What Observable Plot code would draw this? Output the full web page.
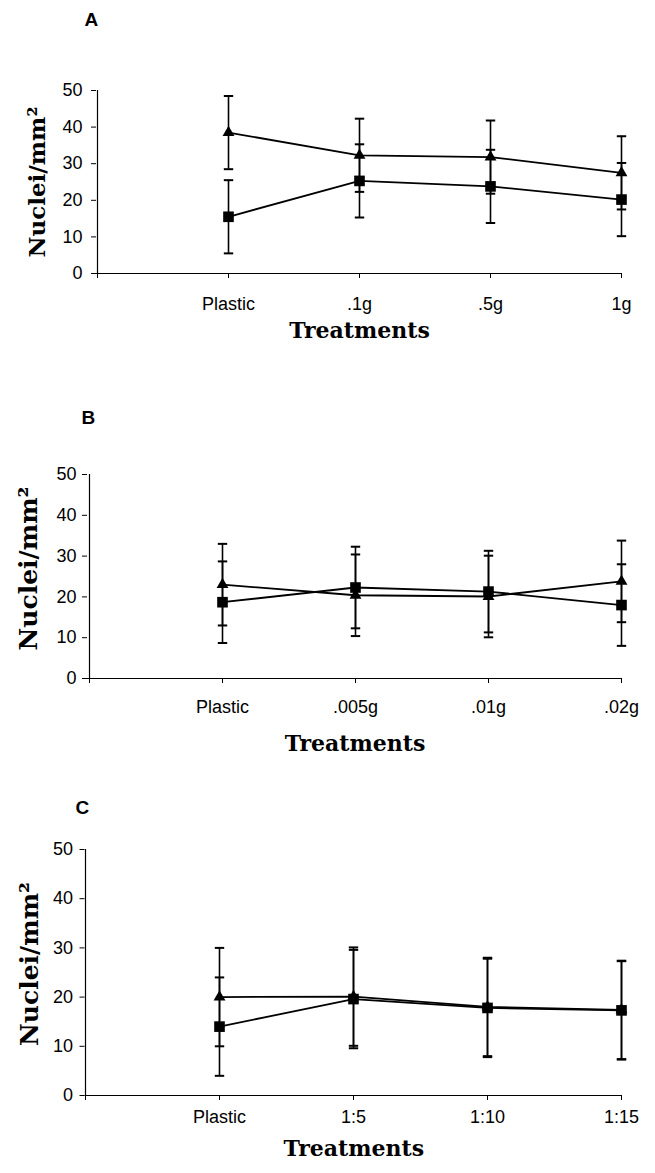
<!DOCTYPE html>
<html><head><meta charset="utf-8">
<script src="https://cdn.jsdelivr.net/npm/d3@7"></script>
<script src="https://cdn.jsdelivr.net/npm/@observablehq/plot@0.6"></script>
<style>
body{margin:0;background:#fff;}
#fig{position:relative;width:655px;height:1173px;background:#fff;}
.panel{position:absolute;left:0;}
</style></head><body><div id="fig"></div>
<script>
// ---- Data ----
const yTicks = [0, 10, 20, 30, 40, 50];

const treatmentsA = ["Plastic", ".1g", ".5g", "1g"];
const triangleA = [38.5, 32.3, 31.8, 27.5];
const triangleErrA = [10, 10, 10, 10];
const squareA = [15.5, 25.3, 23.8, 20.2];
const squareErrA = [10, 10, 10, 10];

const treatmentsB = ["Plastic", ".005g", ".01g", ".02g"];
const triangleB = [23.0, 20.4, 20.1, 23.8];
const triangleErrB = [10, 10, 10, 10];
const squareB = [18.7, 22.3, 21.3, 18.0];
const squareErrB = [10, 10, 10, 10];

const treatmentsC = ["Plastic", "1:5", "1:10", "1:15"];
const triangleC = [20.0, 20.1, 18.0, 17.4];
const triangleErrC = [10, 10, 10, 10];
const squareC = [14.0, 19.6, 17.8, 17.3];
const squareErrC = [10, 10, 10, 10];

const panelLetters = ["A", "B", "C"];
const xTitle = "Treatments";
const yTitle = "Nuclei/mm\u00B2";

// ---- Layout ----
const layouts = [
  {top: 0,   height: 390, mt: 90, mb: 117, ml: 96,   mr: 33, xPad: 19, yPad: 9, lx: -12, ly: -65, tx: -59,   ty: 0,    tfs: 23, xdy: 49},
  {top: 390, height: 380, mt: 84, mb: 92,  ml: 87,   mr: 33, xPad: 17, yPad: 6, lx: -6,  ly: -51, tx: -58.5, ty: -8,   tfs: 25, xdy: 57},
  {top: 770, height: 403, mt: 79, mb: 78,  ml: 84.5, mr: 33, xPad: 10, yPad: 7, lx: -9.5,ly: -36, tx: -55.5, ty: -8.5, tfs: 25, xdy: 45}
];

const cap = {draw(ctx) { ctx.moveTo(-4.7, 0); ctx.lineTo(4.7, 0); }};

function panel(L, letter, cats, tri, triErr, sq, sqErr) {
  const rows = [
    ...cats.map((c, i) => ({t: c, v: tri[i], e: triErr[i], s: "triangle"})),
    ...cats.map((c, i) => ({t: c, v: sq[i], e: sqErr[i], s: "square"}))
  ];
  return Plot.plot({
    width: 655, height: L.height,
    marginTop: L.mt, marginBottom: L.mb, marginLeft: L.ml, marginRight: L.mr,
    style: {fontFamily: "'Liberation Sans', Arial, sans-serif", fontSize: "18px", color: "#000", background: "#fff", overflow: "visible"},
    x: {type: "point", domain: ["", ...cats], padding: 0, label: null},
    y: {domain: [0, 50], label: null},
    marks: [
      Plot.axisX({tickSize: 5, tickPadding: L.xPad, fontSize: 18, label: null}),
      Plot.axisY({ticks: yTicks, tickSize: 5, tickPadding: L.yPad, fontSize: 18, label: null}),
      Plot.ruleY([0], {stroke: "#000", strokeWidth: 1.2}),
      Plot.ruleX([""], {stroke: "#000", strokeWidth: 1.2}),
      Plot.ruleX(rows, {x: "t", y1: d => d.v - d.e, y2: d => d.v + d.e, stroke: "#000", strokeWidth: 1.6}),
      Plot.dot(rows, {x: "t", y: d => d.v + d.e, symbol: cap, fill: "none", stroke: "#000", strokeWidth: 2}),
      Plot.dot(rows, {x: "t", y: d => d.v - d.e, symbol: cap, fill: "none", stroke: "#000", strokeWidth: 2}),
      Plot.line(rows, {x: "t", y: "v", z: "s", stroke: "#000", strokeWidth: 1.8}),
      Plot.dot(rows.filter(d => d.s === "triangle"), {x: "t", y: "v", symbol: "triangle", r: 4.4, fill: "#000", stroke: "none"}),
      Plot.dot(rows.filter(d => d.s === "square"), {x: "t", y: "v", symbol: "square", r: 6, fill: "#000", stroke: "none"}),
      Plot.text([letter], {frameAnchor: "top-left", textAnchor: "start", lineAnchor: "bottom", dx: L.lx, dy: L.ly,
        fontFamily: "'Liberation Sans', Arial, sans-serif", fontWeight: "bold", fontSize: 19, fill: "#000"}),
      Plot.text([yTitle], {frameAnchor: "left", rotate: -90, textAnchor: "middle", lineAnchor: "middle", dx: L.tx, dy: L.ty,
        fontFamily: "'DejaVu Serif', serif", fontWeight: "bold", fontSize: L.tfs, fill: "#000"}),
      Plot.text([xTitle], {frameAnchor: "bottom", textAnchor: "middle", lineAnchor: "top", dy: L.xdy,
        fontFamily: "'DejaVu Serif', serif", fontWeight: "bold", fontSize: 22, fill: "#000"})
    ]
  });
}

const fig = document.getElementById("fig");
const datasets = [
  [treatmentsA, triangleA, triangleErrA, squareA, squareErrA],
  [treatmentsB, triangleB, triangleErrB, squareB, squareErrB],
  [treatmentsC, triangleC, triangleErrC, squareC, squareErrC]
];
datasets.forEach((ds, i) => {
  const svg = panel(layouts[i], panelLetters[i], ...ds);
  const wrap = document.createElement("div");
  wrap.className = "panel";
  wrap.style.top = layouts[i].top + "px";
  wrap.appendChild(svg);
  fig.appendChild(wrap);
});
</script></body></html>
